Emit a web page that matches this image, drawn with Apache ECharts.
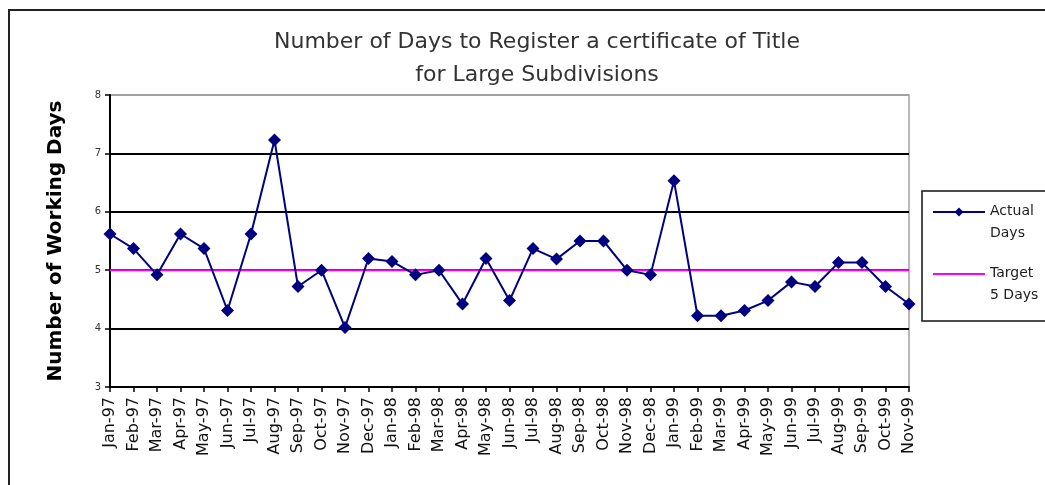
<!DOCTYPE html>
<html>
<head>
<meta charset="utf-8">
<script src="https://cdn.jsdelivr.net/npm/echarts@6/dist/echarts.min.js"></script>
<style>html,body{margin:0;padding:0;background:#fff;}#c{width:1045px;height:485px;}</style>
</head>
<body>
<div id="c"></div>
<script>
const categories = ['Jan-97','Feb-97','Mar-97','Apr-97','May-97','Jun-97','Jul-97','Aug-97','Sep-97','Oct-97','Nov-97','Dec-97',
  'Jan-98','Feb-98','Mar-98','Apr-98','May-98','Jun-98','Jul-98','Aug-98','Sep-98','Oct-98','Nov-98','Dec-98',
  'Jan-99','Feb-99','Mar-99','Apr-99','May-99','Jun-99','Jul-99','Aug-99','Sep-99','Oct-99','Nov-99'];
const actualDays = [5.62,5.37,4.92,5.62,5.37,4.31,5.62,7.23,4.72,5.0,4.02,5.2,
  5.15,4.92,5.0,4.42,5.2,4.48,5.37,5.19,5.5,5.5,5.0,4.92,
  6.53,4.22,4.22,4.31,4.48,4.8,4.72,5.13,5.13,4.72,4.42];
const targetDays = [5,5,5,5,5,5,5,5,5,5,5,5,5,5,5,5,5,5,5,5,5,5,5,5,5,5,5,5,5,5,5,5,5,5,5];
const yTicks = [3,4,5,6,7,8];
const titleLines = ['Number of Days to Register a certificate of Title','for Large Subdivisions'];
const seriesNames = ['Actual\nDays','Target\n5 Days'];

const chart = echarts.init(document.getElementById('c'), null, {renderer:'canvas'});
chart.setOption({
  animation: false,
  backgroundColor: '#fff',
  textStyle: {fontFamily: 'DejaVu Sans'},
  title: {
    text: titleLines.join('\n'),
    left: 532, top: 21, textAlign: 'center',
    textStyle: {fontSize: 22, fontWeight: 'normal', color: '#333', lineHeight: 33, fontFamily: 'DejaVu Sans'}
  },
  graphic: [
    {type: 'rect', shape: {x: 9, y: 10, width: 1200, height: 600}, style: {fill: 'none', stroke: '#222', lineWidth: 2}, z: 0},
    {type: 'rect', shape: {x: 922, y: 191, width: 200, height: 130}, style: {fill: '#fff', stroke: '#111', lineWidth: 1.5}, z: 1}
  ],
  legend: {
    data: [
      {name: seriesNames[0]},
      {name: seriesNames[1], itemStyle: {opacity: 0}}
    ],
    orient: 'vertical',
    left: 927, top: 178,
    itemWidth: 52, itemHeight: 11, itemGap: 5,
    formatter: function (name) {
      return '{e| }\n' + name.split('\n').map(function (s) { return '{t|' + s + '}'; }).join('\n');
    },
    textStyle: {
      fontSize: 14, color: '#222', fontFamily: 'DejaVu Sans',
      rich: {
        e: {lineHeight: 20, fontSize: 14},
        t: {lineHeight: 22, fontSize: 14, color: '#222', fontFamily: 'DejaVu Sans'}
      }
    },
    z: 5
  },
  grid: {left: 110, right: 136, top: 95, bottom: 98, show: true, borderColor: '#a0a0a0', borderWidth: 1.5},
  xAxis: {
    type: 'category', data: categories, boundaryGap: false,
    axisLine: {lineStyle: {color: '#000', width: 2}},
    axisTick: {show: true, interval: 0, length: 5, lineStyle: {color: '#000', width: 1.5}},
    axisLabel: {interval: 0, rotate: 90, fontSize: 16, color: '#111', margin: 10, fontFamily: 'DejaVu Sans'},
    splitLine: {show: false}
  },
  yAxis: {
    type: 'value', min: yTicks[0], max: yTicks[yTicks.length-1], interval: 1,
    name: 'Number of Working Days', nameLocation: 'middle', nameGap: 44, nameRotate: 90,
    nameTextStyle: {fontSize: 20, fontWeight: 'bold', color: '#000', fontFamily: 'DejaVu Sans'},
    axisLine: {show: true, lineStyle: {color: '#000', width: 2}},
    axisTick: {show: true, length: 5, lineStyle: {color: '#000', width: 1.5}},
    axisLabel: {fontSize: 10, color: '#333', margin: 9},
    splitLine: {show: true, lineStyle: {color: ['#000','#000','#000','#000','#000','#a0a0a0'], width: 2}}
  },
  series: [
    {
      name: seriesNames[1], type: 'line', data: targetDays, symbol: 'none', showSymbol: false,
      lineStyle: {color: '#ff00ff', width: 2}, itemStyle: {color: '#ff00ff'}, z: 2
    },
    {
      name: seriesNames[0], type: 'line', data: actualDays, symbol: 'diamond', symbolSize: 13,
      lineStyle: {color: '#000080', width: 2}, itemStyle: {color: '#000080'}, z: 3
    }
  ]
});
</script>
</body>
</html>
